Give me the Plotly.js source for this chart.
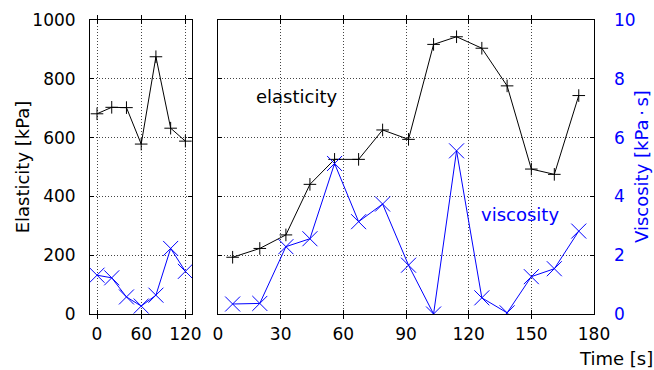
<!DOCTYPE html>
<html>
<head>
<meta charset="utf-8">
<script src="https://cdn.plot.ly/plotly-3.0.1.min.js"></script>
<style>html,body{margin:0;padding:0;background:#fff;}#chart{width:654px;height:370px;}</style>
</head>
<body>
<div id="chart"></div>
<script>
// Left panel (short time window)
const leftTime = [0, 20, 40, 60, 80, 100, 120];
const leftElasticity = [681, 703, 702, 578, 875, 632, 588];
const leftViscosity = [1.32, 1.23, 0.58, 0.27, 0.64, 2.23, 1.45];
// Right panel
const rightTime = [7, 20, 32.5, 44, 55.8, 67.3, 78.8, 91.2, 103.2, 114.2, 126.3, 138.4, 150, 161, 172.7];
const rightElasticity = [193, 223, 269, 441, 526, 526, 626, 594, 917, 943, 904, 776, 493, 475, 743];
const rightViscosity = [0.34, 0.36, 2.29, 2.56, 5.12, 3.14, 3.74, 1.66, 0, 5.55, 0.55, 0.04, 1.27, 1.54, 2.82];
// Tick labels
const leftXTicks = [0, 60, 120];
const rightXTicks = [0, 30, 60, 90, 120, 150, 180];
const elasticityTicks = [0, 200, 400, 600, 800, 1000];
const viscosityTicks = [0, 2, 4, 6, 8, 10];

const FONT = 'DejaVu Sans, Liberation Sans, Arial, sans-serif';
const BLUE = '#0000ff';
const TICK = 17;
const TXT = 18;

const elMarker = {symbol: 'cross-thin-open', size: 9, color: '#000', line: {color: '#000', width: 1}};
const viMarker = {symbol: 'x-thin-open', size: 15, color: BLUE, line: {color: BLUE, width: 1}};

const traces = [
  {x: leftTime, y: leftElasticity, xaxis: 'x', yaxis: 'y', mode: 'lines+markers',
   line: {color: '#000', width: 1}, marker: elMarker, showlegend: false},
  {x: leftTime, y: leftViscosity, xaxis: 'x', yaxis: 'y4', mode: 'lines+markers',
   line: {color: BLUE, width: 1}, marker: viMarker, showlegend: false},
  {x: rightTime, y: rightElasticity, xaxis: 'x2', yaxis: 'y2', mode: 'lines+markers',
   line: {color: '#000', width: 1}, marker: elMarker, showlegend: false},
  {x: rightTime, y: rightViscosity, xaxis: 'x2', yaxis: 'y3', mode: 'lines+markers',
   line: {color: BLUE, width: 1}, marker: viMarker, showlegend: false}
];

const common = {
  showline: true, linecolor: '#000', linewidth: 1, mirror: 'allticks',
  ticks: 'inside', ticklen: 4, tickcolor: '#000', tickwidth: 1,
  showgrid: true, gridcolor: '#444', griddash: '1px,2px', gridwidth: 1,
  zeroline: false, tickfont: {family: FONT, size: TICK, color: '#000'}
};

const layout = {
  width: 654, height: 370,
  margin: {l: 90, r: 60, t: 20, b: 56},
  paper_bgcolor: '#fff', plot_bgcolor: '#fff',
  font: {family: FONT, size: TXT, color: '#000'},
  xaxis: Object.assign({}, common, {domain: [0, 0.2024], range: [-9.5, 129], tickmode: 'array', tickvals: leftXTicks, anchor: 'y', ticklabelstandoff: 5}),
  xaxis2: Object.assign({}, common, {domain: [0.254, 1], range: [0, 180], tickmode: 'array', tickvals: rightXTicks, anchor: 'y2', ticklabelstandoff: 5}),
  yaxis: Object.assign({}, common, {range: [0, 1000], tickmode: 'array', tickvals: elasticityTicks, anchor: 'x', ticklabelstandoff: 10}),
  yaxis2: Object.assign({}, common, {range: [0, 1000], tickmode: 'array', tickvals: elasticityTicks, anchor: 'x2', showticklabels: false}),
  yaxis3: {overlaying: 'y2', anchor: 'x2', side: 'right', range: [0, 10], tickmode: 'array', tickvals: viscosityTicks,
    showgrid: false, zeroline: false, showline: false, ticks: '', ticklabelstandoff: 19,
    tickfont: {family: FONT, size: TICK, color: BLUE}},
  yaxis4: {overlaying: 'y', anchor: 'x', range: [0, 10], visible: false},
  annotations: [
    {xref: 'paper', yref: 'paper', x: -0.135, y: 0.502, text: 'Elasticity [kPa]', textangle: -90,
     showarrow: false, xanchor: 'center', yanchor: 'middle', font: {family: FONT, size: TXT, color: '#000'}},
    {xref: 'paper', yref: 'paper', x: 1.093, y: 0.503, text: 'Viscosity [kPa\u2009·\u2009s]', textangle: -90,
     showarrow: false, xanchor: 'center', yanchor: 'middle', font: {family: FONT, size: TXT, color: BLUE}},
    {xref: 'paper', yref: 'paper', x: 1.121, y: -0.150, text: 'Time [s]',
     showarrow: false, xanchor: 'right', yanchor: 'middle', font: {family: FONT, size: TXT, color: '#000'}},
    {xref: 'x2', yref: 'y2', x: 37.8, y: 741, text: 'elasticity', showarrow: false,
     font: {family: FONT, size: TXT, color: '#000'}},
    {xref: 'x2', yref: 'y3', x: 144.8, y: 3.4, text: 'viscosity', showarrow: false,
     font: {family: FONT, size: TXT, color: BLUE}}
  ]
};

Plotly.newPlot('chart', traces, layout, {displayModeBar: false, staticPlot: true});
</script>
</body>
</html>
